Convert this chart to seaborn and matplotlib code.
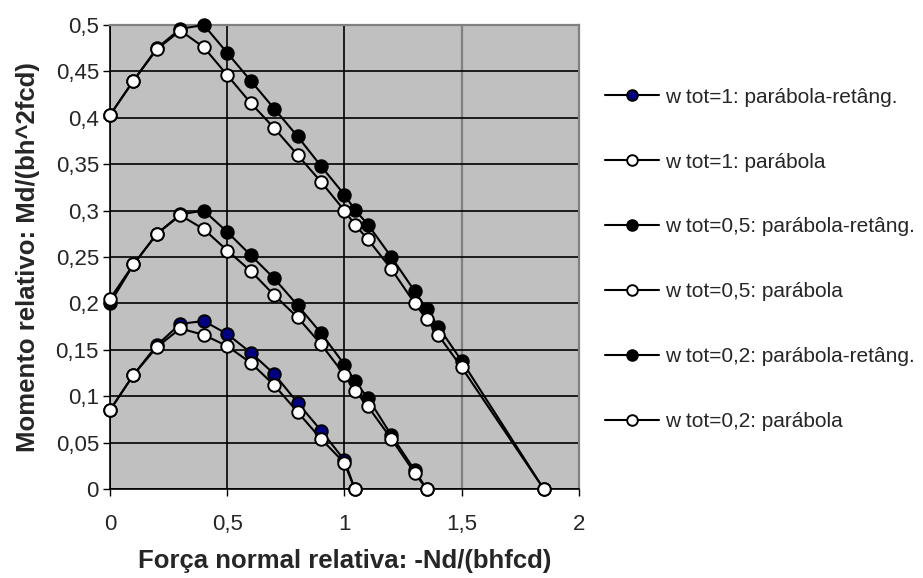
import matplotlib
matplotlib.use("Agg")
import matplotlib.pyplot as plt
import seaborn as sns

# Forca normal relativa (x) e momento relativo (y)
x_top = [0, 0.1, 0.2, 0.3, 0.4, 0.5, 0.6, 0.7, 0.8, 0.9, 1.0, 1.044, 1.1, 1.2, 1.3, 1.35, 1.4, 1.5, 1.85]
y_top_ret = [0.403, 0.44, 0.475, 0.496, 0.5, 0.47, 0.44, 0.41, 0.38, 0.348, 0.317, 0.301, 0.285,
             0.25, 0.213, 0.194, 0.175, 0.138, 0]
y_top_par = [0.403, 0.44, 0.474, 0.494, 0.476, 0.446, 0.416, 0.389, 0.36, 0.331, 0.300, 0.285, 0.269,
             0.237, 0.2, 0.183, 0.166, 0.131, 0]

x_mid = [0, 0.1, 0.2, 0.3, 0.4, 0.5, 0.6, 0.7, 0.8, 0.9, 1.0, 1.044, 1.1, 1.2, 1.3, 1.35]
y_mid_ret = [0.2, 0.242, 0.275, 0.296, 0.3, 0.277, 0.252, 0.227, 0.198, 0.168, 0.134, 0.116, 0.098,
             0.058, 0.02, 0]
y_mid_par = [0.205, 0.242, 0.275, 0.295, 0.28, 0.257, 0.235, 0.209, 0.185, 0.156, 0.123, 0.106, 0.089,
             0.054, 0.017, 0]

x_low = [0, 0.1, 0.2, 0.3, 0.4, 0.5, 0.6, 0.7, 0.8, 0.9, 1.0, 1.044]
y_low_ret = [0.085, 0.123, 0.155, 0.178, 0.181, 0.167, 0.147, 0.124, 0.093, 0.063, 0.031, 0]
y_low_par = [0.085, 0.123, 0.153, 0.173, 0.166, 0.154, 0.136, 0.112, 0.083, 0.054, 0.028, 0]

# legend order as in the original sheet (labels kept exactly as drawn)
series = [
    ("w tot=1: parábola-retâng.", x_low, y_low_ret, "#000080"),
    ("w tot=1: parábola", x_low, y_low_par, "white"),
    ("w tot=0,5: parábola-retâng.", x_mid, y_mid_ret, "black"),
    ("w tot=0,5: parábola", x_mid, y_mid_par, "white"),
    ("w tot=0,2: parábola-retâng.", x_top, y_top_ret, "black"),
    ("w tot=0,2: parábola", x_top, y_top_par, "white"),
]

x_ticks = [0, 0.5, 1, 1.5, 2]
x_ticklabels = ["0", "0,5", "1", "1,5", "2"]
y_ticks = [0, 0.05, 0.1, 0.15, 0.2, 0.25, 0.3, 0.35, 0.4, 0.45, 0.5]
y_ticklabels = ["0", "0,05", "0,1", "0,15", "0,2", "0,25", "0,3", "0,35", "0,4", "0,45", "0,5"]

sns.set_style("white")
plt.rcParams["font.family"] = ["Liberation Sans", "DejaVu Sans"]

fig = plt.figure(figsize=(9.23, 5.78), dpi=100)
ax = fig.add_axes([0.1192, 0.154, 0.508, 0.8027])
ax.set_facecolor("#c0c0c0")

for lab, xs, ys, fc in series:
    sns.lineplot(x=xs, y=ys, ax=ax, color="black", linewidth=1.5, marker="o",
                 markersize=9, markerfacecolor=fc, markeredgecolor="black",
                 markeredgewidth=1.4, label=lab, clip_on=False, zorder=3)

ax.set_xlim(0, 2)
ax.set_ylim(0, 0.5)
ax.set_xticks(x_ticks)
ax.set_xticklabels(x_ticklabels)
ax.set_yticks(y_ticks)
ax.set_yticklabels(y_ticklabels)
ax.tick_params(axis="both", labelsize=16, length=5, width=1, color="black",
               direction="out", bottom=True, left=True)
ax.tick_params(axis="x", pad=13)
ax.tick_params(axis="y", pad=3)

ax.grid(True, color="black", linewidth=1.2)
ax.get_xgridlines()[3].set_color("#808080")
ax.get_xgridlines()[3].set_linewidth(1.6)
ax.set_axisbelow(True)
for s in ["top", "right"]:
    ax.spines[s].set_color("#808080")
    ax.spines[s].set_linewidth(1.6)
for s in ["left", "bottom"]:
    ax.spines[s].set_color("black")
    ax.spines[s].set_linewidth(1.2)

ax.set_xlabel("Força normal relativa: -Nd/(bhfcd)", fontsize=18.5, fontweight="bold", labelpad=10)
ax.set_ylabel("Momento relativo: Md/(bh^2fcd)", fontsize=18.5, fontweight="bold", labelpad=11)

ax.legend(loc="center left", bbox_to_anchor=(1.055, 0.495), frameon=False, fontsize=15,
          labelspacing=2.2, handlelength=2.6, handletextpad=0.3, borderaxespad=0,
          borderpad=0, markerscale=0.85)

fig.savefig("out.png", dpi=100)
